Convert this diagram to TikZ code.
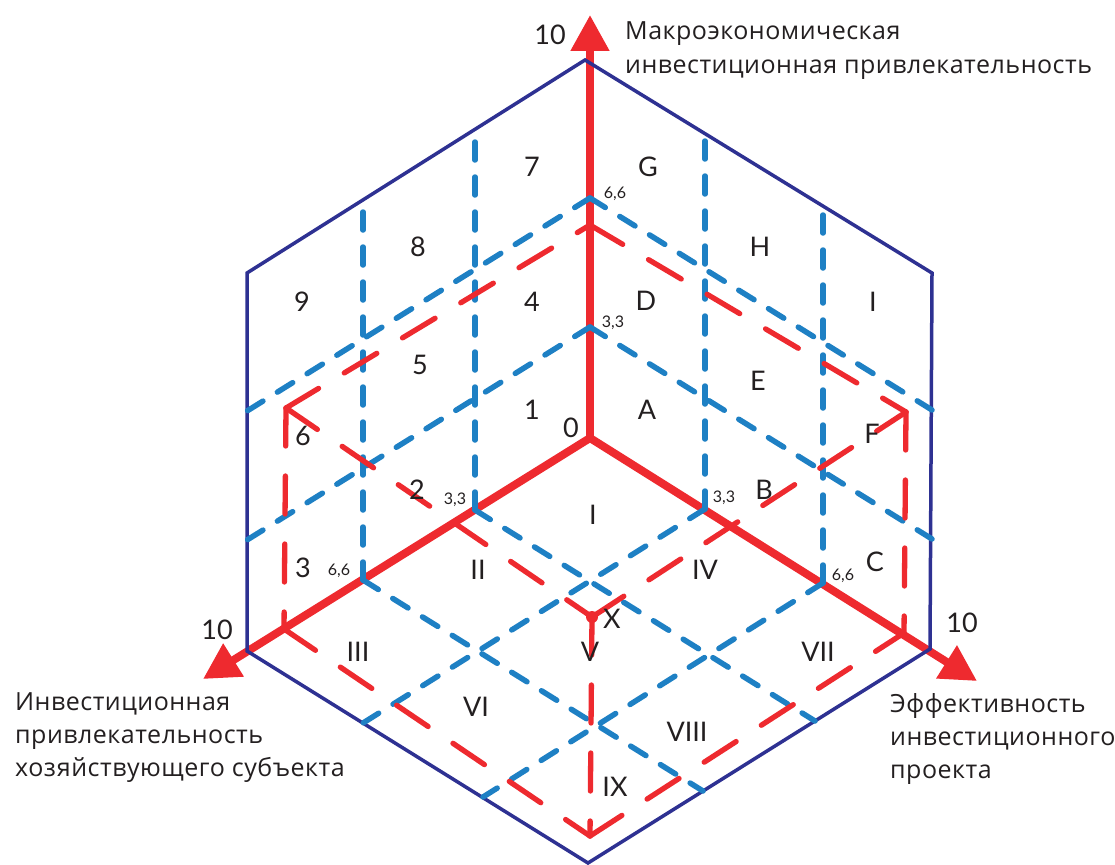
\documentclass[tikz,border=0pt]{standalone}
\usepackage{fontspec}
\setmainfont{Lato}
\newfontfamily\titlefont[LetterSpace=2]{Open Sans}
\usetikzlibrary{arrows.meta}
\definecolor{axred}{HTML}{EE2A2F}
\definecolor{gridblue}{HTML}{1E80C4}
\definecolor{hexnavy}{HTML}{2E3192}
\definecolor{txtc}{HTML}{231F20}
\begin{document}
\begin{tikzpicture}[x=1pt,y=-1pt,
  axisarrow/.style={draw=axred, line width=8pt, -{Triangle[length=36pt,width=37pt]}},
  hexline/.style={draw=hexnavy, line width=3.5pt, line join=miter},
  bluedash/.style={draw=gridblue, line width=5.5pt, line cap=round, dash pattern=on 18pt off 17pt},
  reddash/.style={draw=axred, line width=5.3pt, line cap=round, dash pattern=on 38pt off 30pt},
  cell/.style={font=\fontsize{27}{27}\selectfont, text=txtc, inner sep=0pt},
  tick/.style={font=\fontsize{16}{16}\selectfont, text=txtc, inner sep=0pt},
  axtitle/.style={font=\titlefont\fontsize{25}{25}\selectfont, text=txtc, inner sep=0pt, anchor=base west},
]
\useasboundingbox (0,0) rectangle (1115,864);

% ---- axes
\coordinate (O) at (590,438);
\coordinate (Utip) at (590,15);
\coordinate (Ltip) at (203,679);
\coordinate (Rtip) at (977,681);
\draw[axisarrow] (O) -- (Utip);
\draw[axisarrow] (O) -- (Ltip);
\draw[axisarrow] (O) -- (Rtip);
\fill[axred] (O) circle (4);

% ---- hexagon
\coordinate (H1) at (585,60);
\coordinate (H2) at (932,273);
\coordinate (H3) at (930,649);
\coordinate (H4) at (588,863);
\coordinate (H5) at (247,651);
\coordinate (H6) at (247,273);
\draw[hexline] (H1) -- (H2) -- (H3) -- (H4) -- (H5) -- (H6) -- cycle;

% ---- grid points on axes
\coordinate (U33) at (590,327);
\coordinate (U66) at (590,198);
\coordinate (L33) at (475,510);
\coordinate (L66) at (363,580);
\coordinate (R33) at (705,509);
\coordinate (R66) at (823,583);
% ends on hexagon
\coordinate (L33t) at (475,129);
\coordinate (L66t) at (363,200);
\coordinate (R33t) at (705,134);
\coordinate (R66t) at (823,206);
\coordinate (U33l) at (247,540);
\coordinate (U66l) at (247,411);
\coordinate (U33r) at (932,539);
\coordinate (U66r) at (932,410);
\coordinate (L33b) at (815,721);
\coordinate (L66b) at (703,791);
\coordinate (R33b) at (363,723);
\coordinate (R66b) at (483,797);

% ---- blue grid
\draw[bluedash] (L33) -- (L33t);
\draw[bluedash] (L66) -- (L66t);
\draw[bluedash] (R33) -- (R33t);
\draw[bluedash] (R66) -- (R66t);
\draw[bluedash] (U33) -- (U33l);
\draw[bluedash] (U66) -- (U66l);
\draw[bluedash] (U33) -- (U33r);
\draw[bluedash] (U66) -- (U66r);
\draw[bluedash] (L33) -- (L33b);
\draw[bluedash] (L66) -- (L66b);
\draw[bluedash] (R33) -- (R33b);
\draw[bluedash] (R66) -- (R66b);

% ---- red box
\coordinate (Pup) at (590,225);
\coordinate (PUL) at (286,408);
\coordinate (PUR) at (906,412);
\coordinate (PLL) at (284,629);
\coordinate (PRL) at (904,633);
\coordinate (PB) at (590,836);
\coordinate (X) at (592,617);
\draw[reddash] (Pup) -- (PUR);
\draw[reddash] (PUL) -- (Pup);
\draw[reddash] (PUL) -- (X);
\draw[reddash] (X) -- (PUR);
\draw[reddash] (X) -- (PB);
\draw[reddash] (PUL) -- (PLL);
\draw[reddash] (PUR) -- (PRL);
\draw[reddash] (PLL) -- (PB);
\draw[reddash] (PB) -- (PRL);
\fill[axred] (X) circle (6);

% ---- cell labels, left face
\node[cell] (n7) at (532,167) {7};
\node[cell] (n8) at (418,247) {8};
\node[cell] (n9) at (302,302) {9};
\node[cell] (n4) at (532,302) {4};
\node[cell] (n5) at (420,365) {5};
\node[cell] (n6) at (303,436) {6};
\node[cell] (n1) at (532,410) {1};
\node[cell] (n2) at (417,490) {2};
\node[cell] (n3) at (303,568) {3};
% right face
\node[cell] (nG) at (648,167) {G};
\node[cell] (nH) at (760,247) {H};
\node[cell] (nI) at (873,302) {I};
\node[cell] (nD) at (646,301) {D};
\node[cell] (nE) at (758,381) {E};
\node[cell] (nF) at (872,434) {F};
\node[cell] (nA) at (647,410) {A};
\node[cell] (nB) at (764,490) {B};
\node[cell] (nC) at (875,562) {C};
% bottom face
\node[cell] (r1) at (593,515) {I};
\node[cell] (r2) at (478,570) {II};
\node[cell] (r4) at (705,570) {IV};
\node[cell] (r3) at (358,652) {III};
\node[cell] (r5) at (590,652) {V};
\node[cell] (r7) at (818,652) {VII};
\node[cell] (r6) at (476,707) {VI};
\node[cell] (r8) at (687,732) {VIII};
\node[cell] (r9) at (615,787) {IX};
\node[cell] (lx) at (612,619) {X};
\node[cell] (l0) at (571,428) {0};

% ---- 10 labels
\node[cell] (t10u) at (550,35) {10};
\node[cell] (t10l) at (217,630) {10};
\node[cell] (t10r) at (962,623) {10};

% ---- tick labels
\node[tick] (k1) at (615,194) {6,6};
\node[tick] (k2) at (613,323) {3,3};
\node[tick] (k3) at (455,500) {3,3};
\node[tick] (k4) at (339,571) {6,6};
\node[tick] (k5) at (724,498) {3,3};
\node[tick] (k6) at (843,576) {6,6};

% ---- axis titles
\node[axtitle] (a1) at (625,40) {Макроэкономическая};
\node[axtitle] (a2) at (625,74) {инвестиционная привлекательность};
\node[axtitle] (b1) at (15,710) {Инвестиционная};
\node[axtitle] (b2) at (15,743) {привлекательность};
\node[axtitle] (b3) at (15,776) {хозяйствующего субъекта};
\node[axtitle] (c1) at (890,712) {Эффективность};
\node[axtitle] (c2) at (890,745) {инвестиционного};
\node[axtitle] (c3) at (890,778) {проекта};
\end{tikzpicture}
\end{document}
